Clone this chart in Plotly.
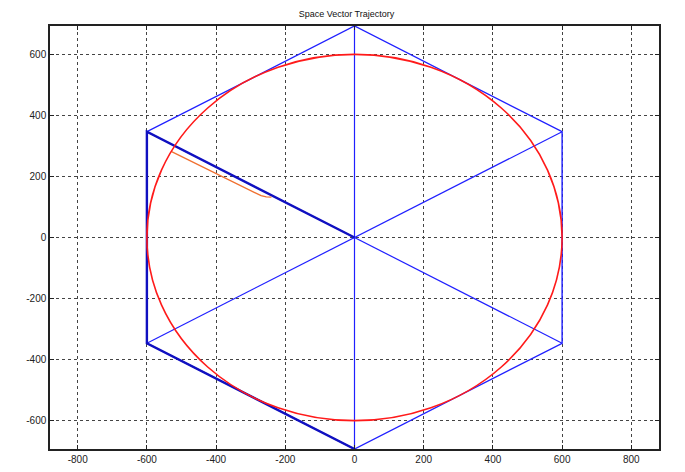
import plotly.graph_objects as go

# Hexagon vertices (space vector states)
hex_x = [0, 600, 600, 0, -600, -600, 0]
hex_y = [692.8, 346.4, -346.4, -692.8, -346.4, 346.4, 692.8]

# Spokes through origin (pairs separated by None)
spoke_x = [0, 0, None, -600, 600, None, -600, 600]
spoke_y = [692.8, -692.8, None, -346.4, 346.4, None, 346.4, -346.4]

# Heavier highlighted segments
bold_x = [0, -600, -600, -600, 0]
bold_y = [0, 346.4, 346.4, -346.4, -692.8]

# Reference circle radius
circle_r = 600

# Transient start of trajectory
trans_x = [-530, -505, -270, -255, -240]
trans_y = [282, 268, 137, 133, 132]

x_ticks = [-800, -600, -400, -200, 0, 200, 400, 600, 800]
y_ticks = [-600, -400, -200, 0, 200, 400, 600]
x_labels = ["-800", "-600", "-400", "-200", "0", "200", "400", "600", "800"]
y_labels = ["-600", "-400", "-200", "0", "200", "400", "600"]

fig = go.Figure()
fig.add_trace(go.Scatter(x=hex_x, y=hex_y, mode="lines",
                         line=dict(color="#2020ff", width=1.4), hoverinfo="skip"))
fig.add_trace(go.Scatter(x=spoke_x, y=spoke_y, mode="lines",
                         line=dict(color="#2020ff", width=1.2), hoverinfo="skip"))
fig.add_trace(go.Scatter(x=bold_x, y=bold_y, mode="lines",
                         line=dict(color="#1010c0", width=2.4), hoverinfo="skip"))
fig.add_trace(go.Scatter(x=trans_x, y=trans_y, mode="lines",
                         line=dict(color="#f07030", width=1.3), hoverinfo="skip"))

fig.add_shape(type="circle", xref="x", yref="y",
              x0=-circle_r, y0=-circle_r, x1=circle_r, y1=circle_r,
              line=dict(color="#ff1a1a", width=1.6), layer="above")

axis_common = dict(showgrid=True, gridcolor="#444444", griddash="dot", gridwidth=1,
                   showline=True, linecolor="#222222", linewidth=1.5, mirror="ticks",
                   ticks="inside", ticklen=4, tickcolor="#222222", automargin=False,
                   zeroline=False, tickfont=dict(family="Arial", size=10, color="#222222"))

fig.update_layout(
    width=677, height=464,
    margin=dict(l=42, r=26, t=18, b=23),
    paper_bgcolor="white", plot_bgcolor="white",
    showlegend=False,
    title=dict(text="Space Vector Trajectory", x=0.5, xanchor="center",
               y=0.995, yanchor="top",
               font=dict(family="Arial", size=9, color="#111111")),
    xaxis=dict(range=[-880, 880], tickvals=x_ticks, ticktext=x_labels, **axis_common),
    yaxis=dict(range=[-692.8, 692.8], tickvals=y_ticks, ticktext=y_labels, **axis_common),
)

fig.write_html("out.html")
